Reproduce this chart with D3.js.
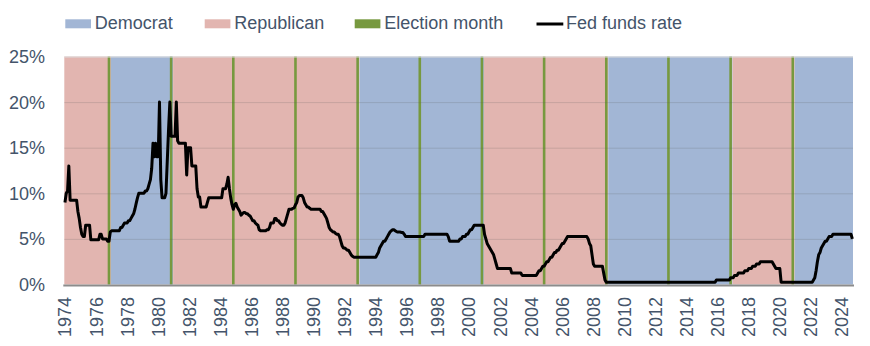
<!DOCTYPE html>
<html><head><meta charset="utf-8">
<script src="https://cdn.jsdelivr.net/npm/d3@7"></script>
<style>
body{margin:0;background:#fff}
svg{display:block}
text{font-family:"Liberation Sans",Arial,sans-serif;fill:#44546A}
</style>
</head><body>
<svg id="c" width="870" height="346"></svg>
<script>
// ---- data ----
const startMonth = "1974-01";
const endMonth = "2024-09";
// Monthly fed funds rate (%), Jan 1974 .. Sep 2024, one row per year
const fedFundsRate = [
  9.0, 10.0, 10.25, 13.0, 9.25, 9.25, 9.25, 9.25, 9.25, 9.25, 8.0, 7.25,      // 1974
  6.25, 5.5, 5.25, 5.25, 6.5, 6.5, 6.5, 6.5, 4.9, 4.9, 4.9, 4.9,              // 1975
  4.9, 4.9, 4.9, 5.5, 5.5, 5.0, 5.0, 5.0, 5.0, 4.75, 4.75, 5.75,              // 1976
  5.9, 5.9, 5.9, 5.9, 5.9, 5.9, 5.9, 6.25, 6.25, 6.5, 6.75, 6.75,             // 1977
  6.75, 7.0, 7.0, 7.25, 7.5, 7.75, 8.25, 8.9, 9.5, 10.0, 10.0, 10.0,          // 1978
  10.0, 10.0, 10.25, 10.25, 10.5, 11.0, 11.5, 12.75, 15.5, 14.0, 15.5, 14.0,  // 1979
  14.0, 20.0, 11.5, 9.5, 9.5, 9.5, 10.0, 13.5, 17.0, 20.0, 16.25, 16.25,      // 1980
  16.25, 16.25, 20.0, 15.75, 15.5, 15.5, 15.5, 15.5, 15.5, 15.5, 12.0, 15.0,  // 1981
  15.0, 15.0, 13.0, 13.0, 13.0, 13.0, 10.5, 9.6, 9.6, 8.5, 8.5, 8.5,          // 1982
  8.5, 8.5, 9.0, 9.5, 9.5, 9.5, 9.5, 9.5, 9.5, 9.5, 9.5, 9.5,                 // 1983
  9.5, 9.5, 10.5, 10.5, 10.5, 11.0, 11.75, 10.5, 9.5, 8.75, 8.25, 8.75,       // 1984
  8.9, 8.5, 8.25, 8.0, 7.6, 7.75, 7.9, 7.9, 7.75, 7.75, 7.6, 7.5,             // 1985
  7.25, 7.0, 7.0, 6.75, 6.6, 6.5, 6.0, 5.9, 5.9, 5.9, 5.9, 5.9,               // 1986
  6.0, 6.0, 6.25, 6.75, 6.75, 6.75, 7.25, 7.25, 7.0, 7.0, 6.75, 6.6,          // 1987
  6.5, 6.5, 6.75, 7.25, 7.75, 8.25, 8.25, 8.25, 8.35, 8.4, 8.75, 9.0,         // 1988
  9.6, 9.75, 9.75, 9.75, 9.5, 9.0, 8.75, 8.5, 8.5, 8.35, 8.25, 8.25,          // 1989
  8.25, 8.25, 8.25, 8.25, 8.25, 8.25, 8.0, 8.0, 7.75, 7.5, 7.25, 6.75,        // 1990
  6.25, 6.0, 5.9, 5.75, 5.75, 5.6, 5.5, 5.5, 5.25, 4.75, 4.25, 4.0,           // 1991
  4.0, 3.9, 3.75, 3.75, 3.5, 3.25, 3.1, 3.0, 3.0, 3.0, 3.0, 3.0,              // 1992
  3.0, 3.0, 3.0, 3.0, 3.0, 3.0, 3.0, 3.0, 3.0, 3.0, 3.0, 3.0,                 // 1993
  3.0, 3.25, 3.5, 4.0, 4.25, 4.5, 4.75, 4.75, 5.0, 5.25, 5.5, 5.75,           // 1994
  5.9, 6.0, 6.0, 5.9, 5.8, 5.75, 5.75, 5.75, 5.7, 5.7, 5.5, 5.25,             // 1995
  5.25, 5.25, 5.25, 5.25, 5.25, 5.25, 5.25, 5.25, 5.25, 5.25, 5.25, 5.25,     // 1996
  5.25, 5.25, 5.5, 5.5, 5.5, 5.5, 5.5, 5.5, 5.5, 5.5, 5.5, 5.5,               // 1997
  5.5, 5.5, 5.5, 5.5, 5.5, 5.5, 5.5, 5.5, 5.25, 4.75, 4.75, 4.75,             // 1998
  4.75, 4.75, 4.75, 4.75, 4.75, 5.0, 5.0, 5.25, 5.25, 5.25, 5.5, 5.5,         // 1999
  5.75, 6.0, 6.0, 6.25, 6.5, 6.5, 6.5, 6.5, 6.5, 6.5, 6.5, 6.5,               // 2000
  5.5, 5.0, 4.5, 4.25, 4.0, 3.75, 3.5, 3.25, 2.75, 2.25, 1.75, 1.75,          // 2001
  1.75, 1.75, 1.75, 1.75, 1.75, 1.75, 1.75, 1.75, 1.75, 1.25, 1.25, 1.25,     // 2002
  1.25, 1.25, 1.25, 1.25, 1.25, 1.0, 1.0, 1.0, 1.0, 1.0, 1.0, 1.0,            // 2003
  1.0, 1.0, 1.0, 1.0, 1.0, 1.25, 1.5, 1.5, 1.75, 2.0, 2.0, 2.25,              // 2004
  2.5, 2.5, 2.75, 3.0, 3.0, 3.25, 3.5, 3.5, 3.75, 3.75, 4.0, 4.25,            // 2005
  4.5, 4.5, 4.75, 5.0, 5.25, 5.25, 5.25, 5.25, 5.25, 5.25, 5.25, 5.25,        // 2006
  5.25, 5.25, 5.25, 5.25, 5.25, 5.25, 5.25, 5.25, 5.0, 4.5, 4.25, 3.25,       // 2007
  2.25, 2.0, 2.0, 2.0, 2.0, 2.0, 2.0, 2.0, 1.25, 0.5, 0.25, 0.25,             // 2008
  0.25, 0.25, 0.25, 0.25, 0.25, 0.25, 0.25, 0.25, 0.25, 0.25, 0.25, 0.25,     // 2009
  0.25, 0.25, 0.25, 0.25, 0.25, 0.25, 0.25, 0.25, 0.25, 0.25, 0.25, 0.25,     // 2010
  0.25, 0.25, 0.25, 0.25, 0.25, 0.25, 0.25, 0.25, 0.25, 0.25, 0.25, 0.25,     // 2011
  0.25, 0.25, 0.25, 0.25, 0.25, 0.25, 0.25, 0.25, 0.25, 0.25, 0.25, 0.25,     // 2012
  0.25, 0.25, 0.25, 0.25, 0.25, 0.25, 0.25, 0.25, 0.25, 0.25, 0.25, 0.25,     // 2013
  0.25, 0.25, 0.25, 0.25, 0.25, 0.25, 0.25, 0.25, 0.25, 0.25, 0.25, 0.25,     // 2014
  0.25, 0.25, 0.25, 0.25, 0.25, 0.25, 0.25, 0.25, 0.25, 0.25, 0.25, 0.5,      // 2015
  0.5, 0.5, 0.5, 0.5, 0.5, 0.5, 0.5, 0.5, 0.5, 0.5, 0.75, 0.75,               // 2016
  0.75, 1.0, 1.0, 1.0, 1.25, 1.25, 1.25, 1.25, 1.25, 1.5, 1.5, 1.5,           // 2017
  1.75, 1.75, 1.75, 2.0, 2.0, 2.0, 2.25, 2.25, 2.25, 2.5, 2.5, 2.5,           // 2018
  2.5, 2.5, 2.5, 2.5, 2.5, 2.5, 2.5, 2.25, 2.0, 1.75, 1.75, 1.75,             // 2019
  1.75, 0.25, 0.25, 0.25, 0.25, 0.25, 0.25, 0.25, 0.25, 0.25, 0.25, 0.25,     // 2020
  0.25, 0.25, 0.25, 0.25, 0.25, 0.25, 0.25, 0.25, 0.25, 0.25, 0.25, 0.25,     // 2021
  0.25, 0.25, 0.5, 0.75, 1.5, 2.5, 3.25, 3.5, 4.0, 4.25, 4.5, 4.75,           // 2022
  4.75, 5.0, 5.25, 5.25, 5.25, 5.5, 5.5, 5.5, 5.5, 5.5, 5.5, 5.5,             // 2023
  5.5, 5.5, 5.5, 5.5, 5.5, 5.5, 5.5, 5.5, 5.0                                 // 2024
];
// Party in the White House: first month of each term and its party
const termStart = ["1974-01", "1977-01", "1981-01", "1993-01", "2001-01", "2009-01", "2017-01", "2021-01"];
const termParty = ["Republican", "Democrat", "Republican", "Democrat", "Republican", "Democrat", "Republican", "Democrat"];
const electionMonths = ["1976-11", "1980-11", "1984-11", "1988-11", "1992-11", "1996-11", "2000-11", "2004-11", "2008-11", "2012-11", "2016-11", "2020-11"];
const xTickLabels = ["1974", "1976", "1978", "1980", "1982", "1984", "1986", "1988", "1990", "1992", "1994", "1996", "1998", "2000", "2002", "2004", "2006", "2008", "2010", "2012", "2014", "2016", "2018", "2020", "2022", "2024"];
const yTicks = [0, 5, 10, 15, 20, 25];
const legendLabels = ["Democrat", "Republican", "Election month", "Fed funds rate"];

// ---- styles ----
const partyColor = {Democrat: "#A2B6D5", Republican: "#E2B5B0"};
const electionColor = "#77993F";

// ---- build ----
const parse = d3.timeParse("%Y-%m");
const fmt = d3.timeFormat("%Y-%m");
const months = d3.timeMonth.range(parse(startMonth), d3.timeMonth.offset(parse(endMonth), 1)).map(fmt);

const svg = d3.select("#c");
const plotL = 64.3, plotR = 853, plotT = 56.5, plotB = 284.5;
const x = d3.scaleBand().domain(months).range([plotL, plotR]).padding(0);
const y = d3.scaleLinear().domain([0, 25]).range([plotB, plotT]);
const bw = x.bandwidth();

// party bands
svg.append("g").selectAll("rect").data(termStart).join("rect")
  .attr("x", d => x(d))
  .attr("width", (d, i) => (i < termStart.length - 1 ? x(termStart[i + 1]) : plotR) - x(d))
  .attr("y", y(25)).attr("height", y(0) - y(25))
  .attr("fill", (d, i) => partyColor[termParty[i]]);

// election months
svg.append("g").selectAll("rect").data(electionMonths).join("rect")
  .attr("x", d => x(d) + bw / 2 - 1.3).attr("width", 2.6)
  .attr("y", y(25)).attr("height", y(0) - y(25))
  .attr("fill", electionColor);

// gridlines
svg.append("g").selectAll("line").data(yTicks.filter(t => t > 0)).join("line")
  .attr("x1", plotL).attr("x2", plotR)
  .attr("y1", d => y(d) + 0.5).attr("y2", d => y(d) + 0.5)
  .attr("stroke", d => d === 25 ? "#dcdcdc" : "rgba(90,90,90,0.2)")
  .attr("stroke-width", 1);

// x axis line
svg.append("line").attr("x1", plotL - 1).attr("x2", plotR + 1)
  .attr("y1", y(0) + 0.9).attr("y2", y(0) + 0.9)
  .attr("stroke", "#8c8c8c").attr("stroke-width", 2);

// y labels
svg.append("g").selectAll("text").data(yTicks).join("text")
  .attr("x", 45).attr("y", d => y(d)).attr("dy", "0.36em")
  .attr("text-anchor", "end").attr("font-size", 18)
  .text(d => d + "%");

// x labels
svg.append("g").selectAll("text").data(xTickLabels).join("text")
  .attr("transform", d => `translate(${x(d + "-01") + bw / 2},297) rotate(-90)`)
  .attr("text-anchor", "end").attr("dy", "0.36em").attr("font-size", 18)
  .text(d => d);

// fed funds line
const line = d3.line().x((d, i) => x(months[i]) + bw / 2).y(d => y(d));
svg.append("path").datum(fedFundsRate)
  .attr("d", line).attr("fill", "none").attr("stroke", "#000")
  .attr("stroke-width", 3).attr("stroke-linejoin", "round");

// legend
const legX = [65.3, 204.7, 354.7, 536.5];
const lg = svg.append("g");
legendLabels.forEach((lab, i) => {
  if (i < 3) {
    lg.append("rect").attr("x", legX[i]).attr("y", 19.3).attr("width", 25.7).attr("height", 9)
      .attr("fill", i === 0 ? partyColor.Democrat : i === 1 ? partyColor.Republican : electionColor);
  } else {
    lg.append("line").attr("x1", legX[i]).attr("x2", legX[i] + 26.8)
      .attr("y1", 24).attr("y2", 24).attr("stroke", "#000").attr("stroke-width", 3);
  }
  lg.append("text").attr("x", legX[i] + 29.5).attr("y", 29.3).attr("font-size", 18).text(lab);
});
</script>
</body></html>
